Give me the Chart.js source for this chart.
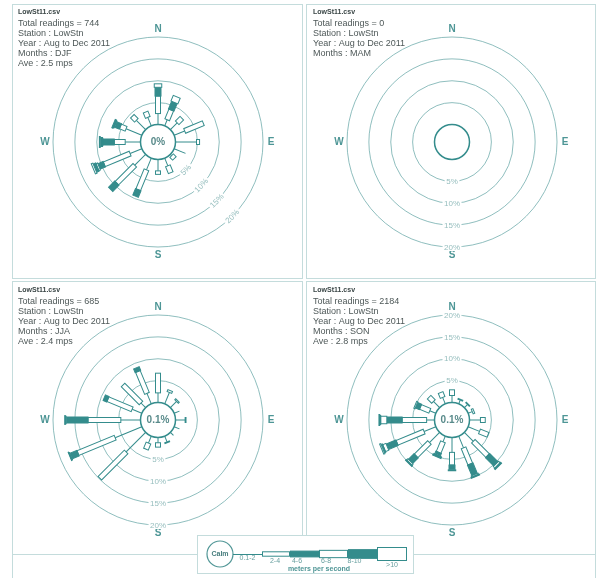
<!DOCTYPE html>
<html>
<head>
<meta charset="utf-8">
<title>LowStn wind roses</title>
<script src="https://cdn.jsdelivr.net/npm/chart.js@4.4.1/dist/chart.umd.min.js"></script>
<style>
  html, body { margin: 0; padding: 0; background: #fff; }
  #page { position: relative; width: 597px; height: 578px; overflow: hidden; background: #fff; }
  .frame { position: absolute; box-sizing: border-box; border: 1px solid #c4dcdc; }
  .rule { position: absolute; background: #c4dcdc; }
  canvas { position: absolute; }
</style>
</head>
<body>
<div id="page">
  <div class="frame" style="left:12px;top:4px;width:291px;height:275px"></div>
  <div class="frame" style="left:306px;top:4px;width:290px;height:275px"></div>
  <div class="frame" style="left:12px;top:281px;width:291px;height:274px"></div>
  <div class="frame" style="left:306px;top:281px;width:290px;height:274px"></div>
  <div class="rule" style="left:12px;top:554px;width:1px;height:24px"></div>
  <div class="rule" style="left:595px;top:554px;width:1px;height:24px"></div>

  <canvas id="roseDJF" width="290" height="274" style="left:12px;top:4px;width:290px;height:274px"></canvas>
  <canvas id="roseMAM" width="290" height="274" style="left:306px;top:4px;width:290px;height:274px"></canvas>
  <canvas id="roseJJA" width="290" height="273" style="left:12px;top:281px;width:290px;height:273px"></canvas>
  <canvas id="roseSON" width="290" height="273" style="left:306px;top:281px;width:290px;height:273px"></canvas>
  <canvas id="key" width="217" height="40" style="left:197px;top:535px;width:217px;height:40px"></canvas>
</div>

<script>
// ---- data -------------------------------------------------------------
const fileName = 'LowSt11.csv';
const directions = ['N','NNE','NE','ENE','E','ESE','SE','SSE','S','SSW','SW','WSW','W','WNW','NW','NNW'];
const speedBands = ['0.1-2', '2-4', '4-6', '6-8', '8-10', '>10'];
const ringTicks = [5, 10, 15, 20];
const cardinalLabels = ['N', 'E', 'S', 'W'];

// Percentage of readings per direction (N clockwise), one array per speed band
const djf_0_2  = [2.5, 1.5, 2.2, 2.6, 4.8, 2.8, 0.4, 1.9, 2.6, 2.9, 3.5, 2.9, 3.5, 3.9, 3.0, 2.1];
const djf_2_4  = [4.0, 2.4, 1.5, 4.6, 0.7, 0.0, 0.9, 1.7, 0.8, 4.9, 5.8, 6.4, 2.5, 1.4, 1.3, 1.3];
const djf_4_6  = [2.0, 1.9, 0.0, 0.0, 0.0, 0.0, 0.0, 0.0, 0.0, 1.6, 2.0, 1.3, 2.6, 1.2, 0.0, 0.0];
const djf_6_8  = [0.8, 1.4, 0.0, 0.0, 0.0, 0.0, 0.0, 0.0, 0.0, 0.0, 0.0, 0.4, 0.1, 0.2, 0.0, 0.0];
const djf_8_10 = [0.0, 0.0, 0.0, 0.0, 0.0, 0.0, 0.0, 0.0, 0.0, 0.0, 0.0, 0.6, 0.5, 0.3, 0.0, 0.0];
const djf_10   = [0.0, 0.0, 0.0, 0.0, 0.0, 0.0, 0.0, 0.0, 0.0, 0.0, 0.0, 0.4, 0.2, 0.0, 0.0, 0.0];

const mam_0_2  = [0, 0, 0, 0, 0, 0, 0, 0, 0, 0, 0, 0, 0, 0, 0, 0];
const mam_2_4  = [0, 0, 0, 0, 0, 0, 0, 0, 0, 0, 0, 0, 0, 0, 0, 0];
const mam_4_6  = [0, 0, 0, 0, 0, 0, 0, 0, 0, 0, 0, 0, 0, 0, 0, 0];
const mam_6_8  = [0, 0, 0, 0, 0, 0, 0, 0, 0, 0, 0, 0, 0, 0, 0, 0];
const mam_8_10 = [0, 0, 0, 0, 0, 0, 0, 0, 0, 0, 0, 0, 0, 0, 0, 0];
const mam_10   = [0, 0, 0, 0, 0, 0, 0, 0, 0, 0, 0, 0, 0, 0, 0, 0];

const jja_0_2  = [2.2, 2.8, 2.0, 1.3, 2.2, 1.3, 1.0, 1.4, 1.2, 1.7, 6.3, 6.6, 4.5, 2.4, 1.5, 2.6];
const jja_2_4  = [4.5, 0.5, 0.3, 0.0, 0.2, 0.0, 0.0, 0.2, 1.0, 1.5, 8.5, 9.2, 7.5, 6.0, 5.8, 5.4];
const jja_4_6  = [0.0, 0.0, 0.0, 0.0, 0.0, 0.0, 0.0, 0.0, 0.0, 0.0, 0.0, 1.7, 5.0, 0.9, 0.0, 0.9];
const jja_6_8  = [0.0, 0.0, 0.0, 0.0, 0.0, 0.0, 0.0, 0.0, 0.0, 0.0, 0.0, 0.2, 0.2, 0.0, 0.0, 0.0];
const jja_8_10 = [0.0, 0.0, 0.0, 0.0, 0.0, 0.0, 0.0, 0.0, 0.0, 0.0, 0.0, 0.1, 0.1, 0.0, 0.0, 0.0];
const jja_10   = [0, 0, 0, 0, 0, 0, 0, 0, 0, 0, 0, 0, 0, 0, 0, 0];

const son_0_2  = [1.6, 0.9, 1.0, 1.0, 2.5, 2.8, 2.9, 2.9, 3.4, 1.4, 3.3, 2.9, 1.8, 1.5, 2.0, 1.6];
const son_2_4  = [1.3, 0.2, 0.2, 0.4, 1.1, 2.1, 4.6, 4.0, 2.9, 2.6, 4.3, 6.7, 5.6, 2.3, 1.4, 1.2];
const son_4_6  = [0.0, 0.0, 0.0, 0.0, 0.0, 0.0, 2.7, 2.6, 1.1, 0.6, 1.8, 2.4, 3.5, 1.0, 0.0, 0.0];
const son_6_8  = [0.0, 0.0, 0.0, 0.0, 0.0, 0.0, 0.5, 0.3, 0.2, 0.2, 0.4, 0.8, 1.4, 0.3, 0.0, 0.0];
const son_8_10 = [0.0, 0.0, 0.0, 0.0, 0.0, 0.0, 0.3, 0.2, 0.0, 0.3, 0.2, 0.3, 0.2, 0.0, 0.0, 0.0];
const son_10   = [0.0, 0.0, 0.0, 0.0, 0.0, 0.0, 0.0, 0.0, 0.0, 0.0, 0.0, 0.3, 0.2, 0.0, 0.0, 0.0];

// Calm percentage shown in the centre circle (null: no readings)
const calmDJF = 0, calmMAM = null, calmJJA = 0.1, calmSON = 0.1;

const infoDJF = ['Total readings = 744', 'Station : LowStn', 'Year : Aug to Dec 2011', 'Months : DJF', 'Ave : 2.5 mps'];
const infoMAM = ['Total readings = 0', 'Station : LowStn', 'Year : Aug to Dec 2011', 'Months : MAM'];
const infoJJA = ['Total readings = 685', 'Station : LowStn', 'Year : Aug to Dec 2011', 'Months : JJA', 'Ave : 2.4 mps'];
const infoSON = ['Total readings = 2184', 'Station : LowStn', 'Year : Aug to Dec 2011', 'Months : SON', 'Ave : 2.8 mps'];

// ---- styling ------------------------------------------------------------
const FONT = '"Liberation Sans", Arial, Helvetica, sans-serif';
const teal = 'rgb(52,140,140)';
const ringColor = 'rgba(105,168,168,0.75)';
const ringLabelColor = 'rgb(150,190,190)';
const compassColor = 'rgb(78,150,150)';
const frameColor = '#c4dcdc';
const bandWidths = [0, 5, 6, 7.5, 9, 11];
const bandFilled = [false, false, true, false, true, false];

function windRosePlugin(meta) {
  return {
    id: 'windRose',
    afterDraw(chart) {
      const ctx = chart.ctx;
      const s = chart.scales.r;
      const cx = s.xCenter, cy = s.yCenter;
      ctx.save();

      // heading block
      ctx.textAlign = 'left';
      ctx.textBaseline = 'middle';
      ctx.fillStyle = '#3a4646';
      ctx.font = 'bold 7px ' + FONT;
      ctx.fillText(fileName, meta.textX, meta.titleY);
      ctx.fillStyle = '#4e5858';
      ctx.font = '9px ' + FONT;
      meta.info.forEach((t, i) => ctx.fillText(t, meta.textX, meta.titleY + 11.6 + i * 10));

      // compass points
      ctx.textAlign = 'center';
      ctx.font = 'bold 10px ' + FONT;
      ctx.fillStyle = compassColor;
      [0, 4, 8, 12].forEach((idx, j) => {
        const p = s.getPointPosition(idx, s.drawingArea + 8);
        ctx.fillText(cardinalLabels[j], p.x, p.y + 0.5);
      });

      // ring labels
      ctx.font = '8px ' + FONT;
      ringTicks.forEach(v => {
        const p = s.getPointPosition(meta.ringLabelIndex, s.getDistanceFromCenterForValue(v));
        const txt = v + '%';
        const w = ctx.measureText(txt).width;
        ctx.save();
        ctx.translate(p.x, p.y);
        ctx.rotate(meta.ringLabelRotation);
        ctx.fillStyle = '#fff';
        ctx.fillRect(-w / 2 - 1.5, -4, w + 3, 8);
        ctx.fillStyle = ringLabelColor;
        ctx.fillText(txt, 0, 0.5);
        ctx.restore();
      });

      // petals: stacked speed bands along each direction
      const sets = chart.data.datasets;
      chart.data.labels.forEach((lab, i) => {
        ctx.save();
        ctx.translate(cx, cy);
        ctx.rotate(s.getIndexAngle(i));
        ctx.strokeStyle = teal;
        ctx.lineWidth = 1;
        let cum = 0;
        sets.forEach((ds, k) => {
          const v = ds.data[i];
          if (!v) return;
          const r1 = s.getDistanceFromCenterForValue(cum);
          const r2 = s.getDistanceFromCenterForValue(cum + v);
          cum += v;
          if (k === 0) {
            ctx.beginPath();
            ctx.moveTo(0, -r1);
            ctx.lineTo(0, -r2);
            ctx.stroke();
          } else {
            const w = bandWidths[k];
            ctx.fillStyle = bandFilled[k] ? teal : '#fff';
            ctx.fillRect(-w / 2, -r2, w, r2 - r1);
            ctx.strokeRect(-w / 2, -r2, w, r2 - r1);
          }
        });
        ctx.restore();
      });

      // calm circle
      const r0 = s.getDistanceFromCenterForValue(0);
      ctx.beginPath();
      ctx.arc(cx, cy, r0, 0, Math.PI * 2);
      ctx.fillStyle = '#fff';
      ctx.fill();
      ctx.lineWidth = 1.5;
      ctx.strokeStyle = teal;
      ctx.stroke();
      if (meta.calm !== null) {
        ctx.font = 'bold 10px ' + FONT;
        ctx.fillStyle = 'rgb(88,138,138)';
        ctx.textAlign = 'center';
        ctx.fillText(meta.calm + '%', cx, cy + 0.5);
      }
      ctx.restore();
    }
  };
}

function buildRose(id, bands, meta, pad) {
  return new Chart(document.getElementById(id), {
    type: 'radar',
    data: {
      labels: directions,
      datasets: speedBands.map((b, k) => ({ label: b, data: bands[k], hidden: true }))
    },
    options: {
      responsive: false,
      animation: false,
      devicePixelRatio: 1,
      layout: { padding: pad },
      plugins: { legend: { display: false }, tooltip: { enabled: false } },
      scales: {
        r: {
          min: -4,
          max: 20,
          startAngle: 0,
          angleLines: { display: false },
          pointLabels: { display: false },
          ticks: { display: false },
          grid: {
            circular: true,
            lineWidth: 1,
            color: c => (c.tick && c.tick.value > 0) ? ringColor : 'rgba(0,0,0,0)'
          },
          afterBuildTicks: sc => { sc.ticks = [0].concat(ringTicks).map(v => ({ value: v })); }
        }
      }
    },
    plugins: [windRosePlugin(meta)]
  });
}

const padTop = { left: 41, top: 33, right: 39, bottom: 31 };
const padBottom = { left: 41, top: 34, right: 39, bottom: 29 };

buildRose('roseDJF', [djf_0_2, djf_2_4, djf_4_6, djf_6_8, djf_8_10, djf_10],
  { info: infoDJF, calm: calmDJF, textX: 6, titleY: 7.7, ringLabelIndex: 6, ringLabelRotation: -Math.PI / 4 }, padTop);
buildRose('roseMAM', [mam_0_2, mam_2_4, mam_4_6, mam_6_8, mam_8_10, mam_10],
  { info: infoMAM, calm: calmMAM, textX: 7, titleY: 7.7, ringLabelIndex: 8, ringLabelRotation: 0 }, padTop);
buildRose('roseJJA', [jja_0_2, jja_2_4, jja_4_6, jja_6_8, jja_8_10, jja_10],
  { info: infoJJA, calm: calmJJA, textX: 6, titleY: 8.7, ringLabelIndex: 8, ringLabelRotation: 0 }, padBottom);
buildRose('roseSON', [son_0_2, son_2_4, son_4_6, son_6_8, son_8_10, son_10],
  { info: infoSON, calm: calmSON, textX: 7, titleY: 8.7, ringLabelIndex: 0, ringLabelRotation: 0 }, padBottom);

// ---- speed key ------------------------------------------------------------
(function drawKey() {
  const c = document.getElementById('key');
  const g = c.getContext('2d');
  g.fillStyle = '#fff';
  g.fillRect(0, 0, c.width, c.height);
  g.strokeStyle = frameColor;
  g.lineWidth = 1;
  g.strokeRect(0.5, 0.5, c.width - 1, c.height - 2);

  const cy = 19;
  g.beginPath();
  g.arc(23, cy, 13, 0, Math.PI * 2);
  g.strokeStyle = 'rgb(80,150,150)';
  g.lineWidth = 1.2;
  g.stroke();
  g.textAlign = 'center';
  g.textBaseline = 'middle';
  g.fillStyle = 'rgb(70,125,125)';
  g.font = 'bold 7px ' + FONT;
  g.fillText('Calm', 23, cy);

  g.strokeStyle = teal;
  g.lineWidth = 1;
  g.beginPath();
  g.moveTo(36, cy + 0.5);
  g.lineTo(65, cy + 0.5);
  g.stroke();

  const edges = [65, 93, 122, 151, 180, 210];
  const heights = [4.4, 5.8, 7.3, 8.7, 13];
  for (let k = 0; k < 5; k++) {
    const x = edges[k], w = edges[k + 1] - edges[k], h = heights[k];
    g.fillStyle = bandFilled[k + 1] ? teal : '#fff';
    g.fillRect(x, cy - h / 2, w, h);
    g.strokeRect(x + 0.5, cy - h / 2, w - 1, h);
  }

  g.fillStyle = 'rgb(105,160,160)';
  g.font = '7px ' + FONT;
  const labelPos = [[50.5, 23.5], [78, 26], [100, 26], [129, 26.5], [157.5, 26.5], [195, 30.5]];
  speedBands.forEach((b, k) => g.fillText(b, labelPos[k][0], labelPos[k][1]));
  g.fillStyle = 'rgb(80,150,150)';
  g.font = 'bold 7px ' + FONT;
  g.fillText('meters per second', 122, 34);
})();
</script>
</body>
</html>
